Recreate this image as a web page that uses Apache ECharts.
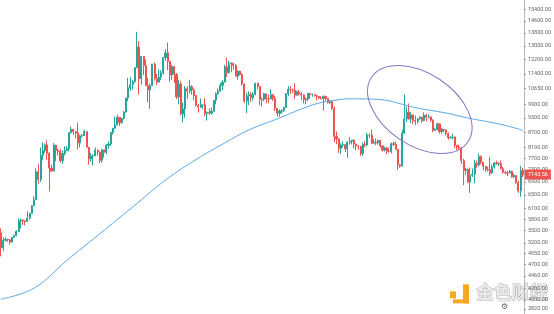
<!DOCTYPE html>
<html>
<head>
<meta charset="utf-8">
<script src="https://cdn.jsdelivr.net/npm/echarts@6/dist/echarts.min.js"></script>
<style>
  html, body { margin: 0; padding: 0; background: #fff; }
  #chart { width: 554px; height: 314px; }
</style>
</head>
<body>
<div id="chart"></div>
<script>
// BTC/USD daily candles, 2019-04-25 .. 2019-12-19, rows are [open, close, low, high]
const START_DATE = '2019-04-25';
const apr = [
  [5450, 5080, 4880, 5560], [5080, 5260, 5000, 5330], [5260, 5280, 5230, 5340],
  [5280, 5270, 5220, 5300], [5270, 5220, 5150, 5290], [5220, 5330, 5200, 5340]
];
const may = [
  [5330, 5370, 5320, 5400], [5370, 5480, 5360, 5510], [5480, 5760, 5470, 5820],
  [5760, 5780, 5560, 5820], [5780, 5760, 5650, 5800], [5760, 5740, 5640, 5770],
  [5740, 5830, 5730, 6020], [5830, 5960, 5790, 5980], [5960, 6180, 5950, 6200],
  [6180, 6350, 6170, 6450], [6350, 7240, 6350, 7350], [7240, 6980, 6840, 7500],
  [6980, 7810, 6900, 8100], [7810, 7990, 7650, 8300], [7990, 8200, 7900, 8260],
  [8200, 7880, 7650, 8370], [7880, 7360, 6600, 7930], [7360, 7260, 7230, 7480],
  [7260, 8190, 7260, 8270], [8190, 7990, 7600, 8200], [7990, 7950, 7800, 8050],
  [7950, 7620, 7550, 8040], [7620, 7880, 7500, 7970], [7880, 7990, 7800, 8150],
  [7990, 8050, 7960, 8150], [8050, 8680, 7950, 8680], [8680, 8820, 8650, 8930],
  [8820, 8720, 8590, 8830], [8720, 8660, 8450, 8750], [8660, 8270, 8030, 9100],
  [8270, 8550, 8100, 8590]
];
const jun = [
  [8550, 8560, 8480, 8620], [8560, 8730, 8550, 8800], [8730, 8110, 8100, 8740],
  [8110, 7680, 7480, 8120], [7680, 7790, 7580, 7900], [7790, 7800, 7450, 7850],
  [7800, 8000, 7770, 8100], [8000, 7930, 7800, 8030], [7930, 7630, 7530, 7950],
  [7630, 8010, 7550, 8050], [8010, 7920, 7730, 8010], [7920, 8180, 7850, 8240],
  [8180, 8230, 8050, 8330], [8230, 8690, 8160, 8700], [8690, 8860, 8600, 8870],
  [8860, 8990, 8850, 9350], [8990, 9320, 8990, 9440], [9320, 9090, 8950, 9330],
  [9090, 9270, 9050, 9300], [9270, 9550, 9230, 9600], [9550, 10200, 9530, 10200],
  [10200, 10700, 10050, 11200], [10700, 10850, 10550, 11250], [10850, 11000, 10600, 11100],
  [11000, 11750, 10950, 11780], [11750, 12930, 11700, 13880], [12930, 11150, 10370, 13300],
  [11150, 12370, 10850, 12400], [12370, 11870, 11350, 12400], [11870, 10800, 10800, 12200]
];
const jul = [
  [10800, 10580, 10000, 11200], [10580, 10810, 9700, 10920], [10810, 11950, 10780, 11950],
  [11950, 11180, 11050, 12030], [11180, 10980, 10830, 11400], [10980, 11240, 10970, 11650],
  [11240, 11460, 11080, 11600], [11460, 12300, 11360, 12350], [12300, 12580, 12120, 12800],
  [12580, 12100, 11600, 13200], [12100, 11350, 11000, 12100], [11350, 11810, 11100, 11900],
  [11810, 11390, 10950, 11840], [11390, 10250, 10150, 11450], [10250, 10890, 9900, 11100],
  [10890, 9470, 9400, 11030], [9470, 9690, 9100, 9980], [9690, 10650, 9300, 10780],
  [10650, 10530, 10150, 10770], [10530, 10760, 10400, 11100], [10760, 10590, 10350, 10830],
  [10590, 10320, 10080, 10660], [10320, 9850, 9800, 10320], [9850, 9770, 9530, 9920],
  [9770, 9880, 9750, 10180], [9880, 9880, 9680, 9890], [9880, 9480, 9360, 10200],
  [9480, 9530, 9180, 9580], [9530, 9500, 9430, 9720], [9500, 9590, 9440, 9750],
  [9590, 10090, 9580, 10100]
];
const aug = [
  [10090, 10400, 9900, 10470], [10400, 10530, 10350, 10650], [10530, 10820, 10500, 10920],
  [10820, 10980, 10580, 11080], [10980, 11800, 10980, 11900], [11800, 11480, 11250, 12300],
  [11480, 11970, 11420, 12120], [11970, 11980, 11500, 12050], [11980, 11860, 11650, 12030],
  [11860, 11290, 11280, 11950], [11290, 11560, 11110, 11590], [11560, 11380, 11330, 11570],
  [11380, 10890, 10800, 11450], [10890, 10050, 9960, 10900], [10050, 10310, 9500, 10450],
  [10310, 10370, 9870, 10520], [10370, 10220, 10010, 10480], [10220, 10360, 10080, 10470],
  [10360, 10920, 10330, 10940], [10920, 10760, 10620, 10950], [10760, 10140, 9860, 10760],
  [10140, 10130, 9790, 10230], [10130, 10400, 10050, 10450], [10400, 10160, 9950, 10410],
  [10160, 10150, 9960, 10350], [10150, 10360, 10150, 10620], [10360, 10180, 10060, 10380],
  [10180, 9720, 9600, 10300], [9720, 9500, 9350, 9720], [9500, 9600, 9350, 9670],
  [9600, 9630, 9480, 9680]
];
const sep = [
  [9630, 9760, 9560, 9800], [9760, 10390, 9750, 10440], [10390, 10620, 10300, 10780],
  [10620, 10590, 10400, 10780], [10590, 10580, 10450, 10650], [10580, 10330, 10150, 10920],
  [10330, 10490, 10330, 10560], [10490, 10400, 10310, 10590], [10400, 10340, 10100, 10480],
  [10340, 10120, 9950, 10380], [10120, 10160, 9900, 10220], [10160, 10420, 10050, 10450],
  [10420, 10360, 10160, 10440], [10360, 10360, 10260, 10410], [10360, 10310, 10270, 10380],
  [10310, 10270, 10080, 10340], [10270, 10190, 10160, 10280], [10190, 10160, 10140, 10280],
  [10160, 10280, 9620, 10320], [10280, 10170, 10070, 10280], [10170, 9990, 9940, 10190],
  [9990, 10030, 9910, 10090], [10030, 9700, 9660, 10050], [9700, 8530, 8300, 9810],
  [8530, 8430, 8230, 8730], [8430, 8060, 7900, 8450], [8060, 8190, 7860, 8260],
  [8190, 8210, 8100, 8330], [8210, 8050, 7930, 8220], [8050, 8300, 7720, 8350]
];
const oct = [
  [8300, 8340, 8210, 8500], [8340, 8390, 8220, 8390], [8390, 8230, 8070, 8400],
  [8230, 8160, 8000, 8240], [8160, 8150, 8020, 8180], [8150, 7870, 7790, 8160],
  [7870, 8220, 7800, 8300], [8220, 8200, 8120, 8340], [8200, 8590, 8150, 8680],
  [8590, 8590, 8470, 8640], [8590, 8260, 8240, 8800], [8260, 8300, 8250, 8430],
  [8300, 8280, 8190, 8450], [8280, 8370, 8210, 8400], [8370, 8160, 8100, 8400],
  [8160, 8000, 7950, 8160], [8000, 8080, 7950, 8130], [8080, 7960, 7850, 8110],
  [7960, 7950, 7900, 8100], [7950, 8240, 7880, 8290], [8240, 8220, 8160, 8320],
  [8220, 8030, 8040, 8330], [8030, 7470, 7300, 8040], [7470, 7430, 7370, 7490],
  [7430, 8660, 7420, 8800], [8660, 9250, 8630, 10370], [9250, 9550, 9120, 9800],
  [9550, 9250, 9220, 9940], [9250, 9430, 9080, 9550], [9430, 9180, 9020, 9430],
  [9180, 9140, 8980, 9400]
];
const nov = [
  [9140, 9260, 9050, 9280], [9260, 9320, 9220, 9380], [9320, 9180, 9080, 9360],
  [9180, 9410, 9150, 9540], [9410, 9320, 9150, 9480], [9320, 9340, 9280, 9440],
  [9340, 9200, 9130, 9360], [9200, 8770, 8700, 9240], [8770, 8810, 8760, 8860],
  [8810, 9040, 8770, 9100], [9040, 8720, 8640, 9070], [8720, 8820, 8640, 8880],
  [8820, 8790, 8700, 8830], [8790, 8630, 8570, 8800], [8630, 8470, 8400, 8690],
  [8470, 8500, 8450, 8530], [8500, 8510, 8410, 8640], [8510, 8180, 8080, 8520],
  [8180, 8120, 8000, 8200], [8120, 8080, 8020, 8210], [8080, 7620, 7500, 8120],
  [7620, 7280, 6800, 7680], [7280, 7320, 7120, 7370], [7320, 6900, 6860, 7340],
  [6900, 7120, 6560, 7380], [7120, 7160, 7060, 7350], [7160, 7530, 6860, 7650],
  [7530, 7470, 7370, 7620], [7470, 7770, 7420, 7880], [7770, 7570, 7490, 7810]
];
const dec = [
  [7570, 7420, 7290, 7570], [7420, 7320, 7240, 7430], [7320, 7300, 7240, 7410],
  [7300, 7200, 7100, 7750], [7200, 7400, 7160, 7490], [7400, 7540, 7340, 7560],
  [7540, 7500, 7490, 7620], [7500, 7520, 7430, 7560], [7520, 7340, 7310, 7630],
  [7340, 7220, 7170, 7400], [7220, 7200, 7150, 7270], [7200, 7190, 7090, 7260],
  [7190, 7250, 7190, 7290], [7250, 7070, 7040, 7270], [7070, 7110, 7030, 7180],
  [7110, 6880, 6840, 7130], [6880, 6620, 6560, 6940], [6620, 7280, 6440, 7440],
  [7280, 7143.56, 7060, 7370]
];
const LAST_PRICE = 7143.56;

// moving-average line, [candle index, value]
const maPoints = [
  [0, 4000], [15, 4210], [30, 4790], [45, 5420], [60, 6140], [75, 6960],
  [90, 7710], [102, 8270], [113, 8790], [127, 9290], [137, 9690],
  [145, 9960], [153, 10100], [159, 10160], [168, 10150], [175, 10100],
  [181, 9960], [190, 9730], [203, 9510], [213, 9290], [227, 9040],
  [236, 8830], [238, 8760]
];

// price scale labels on the right axis
const priceTicks = [
  15400, 14600, 13800, 13000, 12200, 11400, 10650, 9900, 9300, 8700, 8100,
  7700, 7300, 6900, 6500, 6100, 5800, 5500, 5200, 4950, 4700, 4460, 4200,
  4000, 3820
];
const PRICE_MIN = 3733;
const PRICE_MAX = 16090;

// highlighted region: centre at [candle index, price]
const highlightCenter = [191, 9670];

const candles = [].concat(apr, may, jun, jul, aug, sep, oct, nov, dec);
const dates = [];
{
  const d = new Date(START_DATE + 'T00:00:00Z');
  for (let i = 0; i < candles.length; i++) {
    dates.push(d.toISOString().slice(0, 10));
    d.setUTCDate(d.getUTCDate() + 1);
  }
}

const UP = '#26a69a';
const DOWN = '#ef5350';

const chart = echarts.init(document.getElementById('chart'), null, { renderer: 'canvas' });
chart.setOption({
  animation: false,
  backgroundColor: '#ffffff',
  grid: { left: 0, right: 27, top: 0, bottom: 0 },
  xAxis: {
    type: 'category',
    data: dates,
    boundaryGap: true,
    axisLine: { show: false },
    axisTick: { show: false },
    axisLabel: { show: false },
    splitLine: { show: false }
  },
  yAxis: {
    type: 'log',
    logBase: 10,
    position: 'right',
    min: PRICE_MIN,
    max: PRICE_MAX,
    axisLine: { show: true, lineStyle: { color: '#b8b8b8', width: 1 } },
    axisTick: { show: true, length: 2, customValues: priceTicks, lineStyle: { color: '#999' } },
    axisLabel: {
      customValues: priceTicks,
      formatter: v => Number(v).toFixed(2),
      fontSize: 5.5,
      color: '#666',
      margin: 4,
      fontFamily: 'Roboto, sans-serif'
    },
    splitLine: { show: false }
  },
  series: [
    {
      type: 'candlestick',
      data: candles,
      barWidth: '72%',
      itemStyle: {
        color: UP, color0: DOWN,
        borderColor: UP, borderColor0: DOWN,
        borderWidth: 1
      },
      markLine: {
        silent: true,
        symbol: 'none',
        lineStyle: { color: 'transparent', width: 0 },
        data: [{ yAxis: LAST_PRICE }],
        label: {
          show: true,
          position: 'end',
          distance: 1,
          formatter: () => LAST_PRICE.toFixed(2),
          backgroundColor: DOWN,
          color: '#fff',
          fontSize: 5.5,
          fontFamily: 'Roboto, sans-serif',
          padding: [2, 3, 2, 3]
        }
      }
    },
    {
      type: 'line',
      data: maPoints,
      showSymbol: false,
      smooth: 0.4,
      lineStyle: { color: '#5aa9e6', width: 1 },
      z: 3
    }
  ]
});

// annotation ellipse and watermark
const c = chart.convertToPixel({ xAxisIndex: 0, yAxisIndex: 0 }, highlightCenter);
chart.setOption({
  graphic: [
    {
      type: 'ellipse',
      x: c[0], y: c[1],
      rotation: -0.59,
      shape: { cx: 0, cy: 0, rx: 58, ry: 36 },
      style: { fill: 'none', stroke: '#8c74c4', lineWidth: 1 },
      z: 10
    },
    {
      type: 'group',
      left: 450, top: 283,
      children: [
        { type: 'rect', shape: { x: 0, y: 8, width: 6, height: 7 }, style: { fill: '#f6a821' } },
        { type: 'rect', shape: { x: 13, y: 1, width: 6, height: 19 }, style: { fill: '#f6a821' } },
        { type: 'rect', shape: { x: 3, y: 16, width: 16, height: 4 }, style: { fill: '#f6a821' } },
        {
          type: 'text', x: 26, y: 0,
          style: {
            text: '金色财经',
            fontSize: 18,
            fontWeight: 'bold',
            fontFamily: '"Noto Sans CJK SC", sans-serif',
            fill: 'rgba(235,235,235,0.85)',
            stroke: 'rgba(150,150,150,0.8)',
            lineWidth: 0.8
          }
        }
      ],
      z: 20
    },
    {
      type: 'text', left: 501, top: 303,
      style: { text: '⚙', fontSize: 8, fill: '#666', fontFamily: 'DejaVu Sans' },
      z: 20
    }
  ]
});
</script>
</body>
</html>
